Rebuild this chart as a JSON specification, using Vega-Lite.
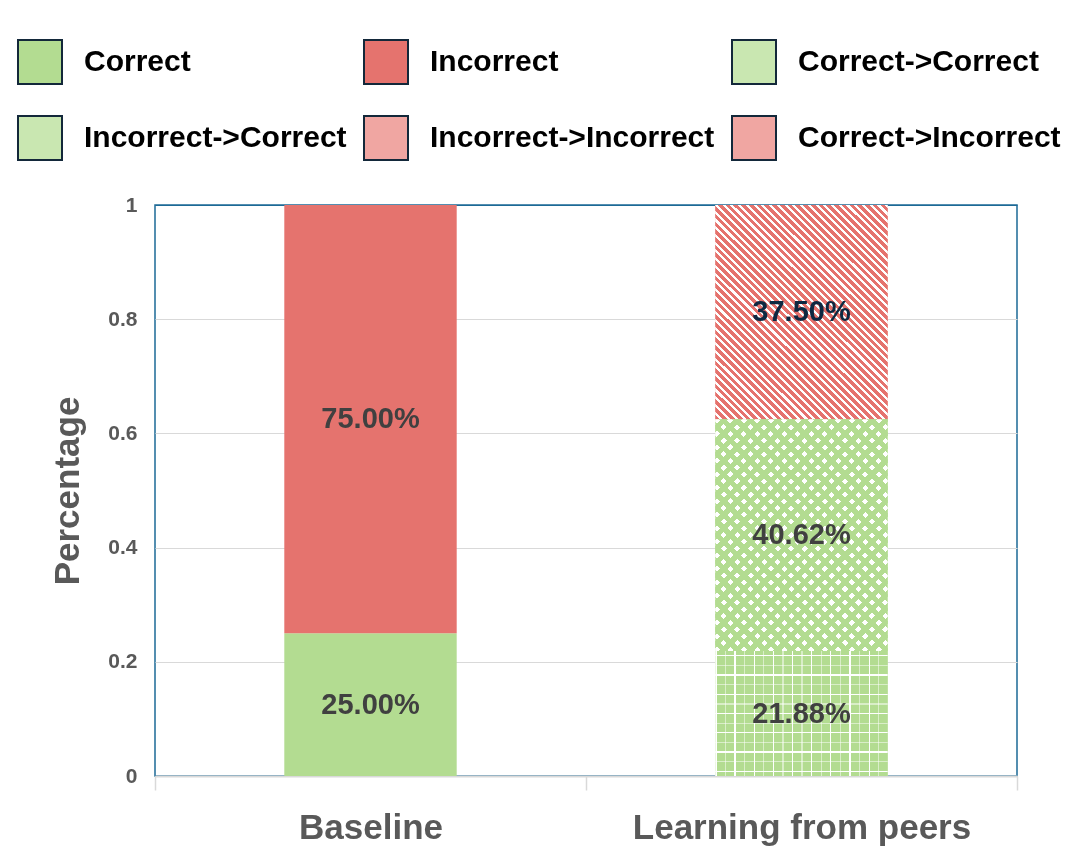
{
  "$schema": "https://vega.github.io/schema/vega-lite/v6.json",
  "width": 862,
  "height": 571,
  "autosize": {"type": "none"},
  "padding": {"left": 155, "top": 205, "right": 63, "bottom": 81},
  "background": "white",
  "params": [
    {"name": "cR", "value": "#e5736e"},
    {"name": "cW", "value": "#ffffff"},
    {"name": "cG", "value": "#b3dc91"},
    {"name": "cT", "value": "rgba(255,255,255,0)"},
    {"name": "cH", "value": "rgba(255,255,255,0.5)"},
    {"name": "sII", "expr": "[{offset:0,color:cR},{offset:0.012,color:cR},{offset:0.012,color:cW},{offset:0.02,color:cW},{offset:0.02,color:cR},{offset:0.032,color:cR},{offset:0.032,color:cW},{offset:0.04,color:cW},{offset:0.04,color:cR},{offset:0.052,color:cR},{offset:0.052,color:cW},{offset:0.06,color:cW},{offset:0.06,color:cR},{offset:0.072,color:cR},{offset:0.072,color:cW},{offset:0.08,color:cW},{offset:0.08,color:cR},{offset:0.092,color:cR},{offset:0.092,color:cW},{offset:0.1,color:cW},{offset:0.1,color:cR},{offset:0.112,color:cR},{offset:0.112,color:cW},{offset:0.12,color:cW},{offset:0.12,color:cR},{offset:0.132,color:cR},{offset:0.132,color:cW},{offset:0.14,color:cW},{offset:0.14,color:cR},{offset:0.152,color:cR},{offset:0.152,color:cW},{offset:0.16,color:cW},{offset:0.16,color:cR},{offset:0.172,color:cR},{offset:0.172,color:cW},{offset:0.18,color:cW},{offset:0.18,color:cR},{offset:0.192,color:cR},{offset:0.192,color:cW},{offset:0.2,color:cW},{offset:0.2,color:cR},{offset:0.212,color:cR},{offset:0.212,color:cW},{offset:0.22,color:cW},{offset:0.22,color:cR},{offset:0.232,color:cR},{offset:0.232,color:cW},{offset:0.24,color:cW},{offset:0.24,color:cR},{offset:0.252,color:cR},{offset:0.252,color:cW},{offset:0.26,color:cW},{offset:0.26,color:cR},{offset:0.272,color:cR},{offset:0.272,color:cW},{offset:0.28,color:cW},{offset:0.28,color:cR},{offset:0.292,color:cR},{offset:0.292,color:cW},{offset:0.3,color:cW},{offset:0.3,color:cR},{offset:0.312,color:cR},{offset:0.312,color:cW},{offset:0.32,color:cW},{offset:0.32,color:cR},{offset:0.332,color:cR},{offset:0.332,color:cW},{offset:0.34,color:cW},{offset:0.34,color:cR},{offset:0.352,color:cR},{offset:0.352,color:cW},{offset:0.36,color:cW},{offset:0.36,color:cR},{offset:0.372,color:cR},{offset:0.372,color:cW},{offset:0.38,color:cW},{offset:0.38,color:cR},{offset:0.392,color:cR},{offset:0.392,color:cW},{offset:0.4,color:cW},{offset:0.4,color:cR},{offset:0.412,color:cR},{offset:0.412,color:cW},{offset:0.42,color:cW},{offset:0.42,color:cR},{offset:0.432,color:cR},{offset:0.432,color:cW},{offset:0.44,color:cW},{offset:0.44,color:cR},{offset:0.452,color:cR},{offset:0.452,color:cW},{offset:0.46,color:cW},{offset:0.46,color:cR},{offset:0.472,color:cR},{offset:0.472,color:cW},{offset:0.48,color:cW},{offset:0.48,color:cR},{offset:0.492,color:cR},{offset:0.492,color:cW},{offset:0.5,color:cW},{offset:0.5,color:cR},{offset:0.512,color:cR},{offset:0.512,color:cW},{offset:0.52,color:cW},{offset:0.52,color:cR},{offset:0.532,color:cR},{offset:0.532,color:cW},{offset:0.54,color:cW},{offset:0.54,color:cR},{offset:0.552,color:cR},{offset:0.552,color:cW},{offset:0.56,color:cW},{offset:0.56,color:cR},{offset:0.572,color:cR},{offset:0.572,color:cW},{offset:0.58,color:cW},{offset:0.58,color:cR},{offset:0.592,color:cR},{offset:0.592,color:cW},{offset:0.6,color:cW},{offset:0.6,color:cR},{offset:0.612,color:cR},{offset:0.612,color:cW},{offset:0.62,color:cW},{offset:0.62,color:cR},{offset:0.632,color:cR},{offset:0.632,color:cW},{offset:0.64,color:cW},{offset:0.64,color:cR},{offset:0.652,color:cR},{offset:0.652,color:cW},{offset:0.66,color:cW},{offset:0.66,color:cR},{offset:0.672,color:cR},{offset:0.672,color:cW},{offset:0.68,color:cW},{offset:0.68,color:cR},{offset:0.692,color:cR},{offset:0.692,color:cW},{offset:0.7,color:cW},{offset:0.7,color:cR},{offset:0.712,color:cR},{offset:0.712,color:cW},{offset:0.72,color:cW},{offset:0.72,color:cR},{offset:0.732,color:cR},{offset:0.732,color:cW},{offset:0.74,color:cW},{offset:0.74,color:cR},{offset:0.752,color:cR},{offset:0.752,color:cW},{offset:0.76,color:cW},{offset:0.76,color:cR},{offset:0.772,color:cR},{offset:0.772,color:cW},{offset:0.78,color:cW},{offset:0.78,color:cR},{offset:0.792,color:cR},{offset:0.792,color:cW},{offset:0.8,color:cW},{offset:0.8,color:cR},{offset:0.812,color:cR},{offset:0.812,color:cW},{offset:0.82,color:cW},{offset:0.82,color:cR},{offset:0.832,color:cR},{offset:0.832,color:cW},{offset:0.84,color:cW},{offset:0.84,color:cR},{offset:0.852,color:cR},{offset:0.852,color:cW},{offset:0.86,color:cW},{offset:0.86,color:cR},{offset:0.872,color:cR},{offset:0.872,color:cW},{offset:0.88,color:cW},{offset:0.88,color:cR},{offset:0.892,color:cR},{offset:0.892,color:cW},{offset:0.9,color:cW},{offset:0.9,color:cR},{offset:0.912,color:cR},{offset:0.912,color:cW},{offset:0.92,color:cW},{offset:0.92,color:cR},{offset:0.932,color:cR},{offset:0.932,color:cW},{offset:0.94,color:cW},{offset:0.94,color:cR},{offset:0.952,color:cR},{offset:0.952,color:cW},{offset:0.96,color:cW},{offset:0.96,color:cR},{offset:0.972,color:cR},{offset:0.972,color:cW},{offset:0.98,color:cW},{offset:0.98,color:cR},{offset:0.992,color:cR},{offset:0.992,color:cW},{offset:1,color:cW}]"},
    {"name": "gII", "expr": "{gradient:'linear',x1:0,y1:1,x2:0.881,y2:-0.096,stops:sII}"},
    {"name": "sIC", "expr": "[{offset:0,color:cW},{offset:0.015,color:cW},{offset:0.015,color:cG},{offset:0.0333,color:cG},{offset:0.0333,color:cW},{offset:0.0483,color:cW},{offset:0.0483,color:cG},{offset:0.0667,color:cG},{offset:0.0667,color:cW},{offset:0.0817,color:cW},{offset:0.0817,color:cG},{offset:0.1,color:cG},{offset:0.1,color:cW},{offset:0.115,color:cW},{offset:0.115,color:cG},{offset:0.1333,color:cG},{offset:0.1333,color:cW},{offset:0.1483,color:cW},{offset:0.1483,color:cG},{offset:0.1667,color:cG},{offset:0.1667,color:cW},{offset:0.1817,color:cW},{offset:0.1817,color:cG},{offset:0.2,color:cG},{offset:0.2,color:cW},{offset:0.215,color:cW},{offset:0.215,color:cG},{offset:0.2333,color:cG},{offset:0.2333,color:cW},{offset:0.2483,color:cW},{offset:0.2483,color:cG},{offset:0.2667,color:cG},{offset:0.2667,color:cW},{offset:0.2817,color:cW},{offset:0.2817,color:cG},{offset:0.3,color:cG},{offset:0.3,color:cW},{offset:0.315,color:cW},{offset:0.315,color:cG},{offset:0.3333,color:cG},{offset:0.3333,color:cW},{offset:0.3483,color:cW},{offset:0.3483,color:cG},{offset:0.3667,color:cG},{offset:0.3667,color:cW},{offset:0.3817,color:cW},{offset:0.3817,color:cG},{offset:0.4,color:cG},{offset:0.4,color:cW},{offset:0.415,color:cW},{offset:0.415,color:cG},{offset:0.4333,color:cG},{offset:0.4333,color:cW},{offset:0.4483,color:cW},{offset:0.4483,color:cG},{offset:0.4667,color:cG},{offset:0.4667,color:cW},{offset:0.4817,color:cW},{offset:0.4817,color:cG},{offset:0.5,color:cG},{offset:0.5,color:cW},{offset:0.515,color:cW},{offset:0.515,color:cG},{offset:0.5333,color:cG},{offset:0.5333,color:cW},{offset:0.5483,color:cW},{offset:0.5483,color:cG},{offset:0.5667,color:cG},{offset:0.5667,color:cW},{offset:0.5817,color:cW},{offset:0.5817,color:cG},{offset:0.6,color:cG},{offset:0.6,color:cW},{offset:0.615,color:cW},{offset:0.615,color:cG},{offset:0.6333,color:cG},{offset:0.6333,color:cW},{offset:0.6483,color:cW},{offset:0.6483,color:cG},{offset:0.6667,color:cG},{offset:0.6667,color:cW},{offset:0.6817,color:cW},{offset:0.6817,color:cG},{offset:0.7,color:cG},{offset:0.7,color:cW},{offset:0.715,color:cW},{offset:0.715,color:cG},{offset:0.7333,color:cG},{offset:0.7333,color:cW},{offset:0.7483,color:cW},{offset:0.7483,color:cG},{offset:0.7667,color:cG},{offset:0.7667,color:cW},{offset:0.7817,color:cW},{offset:0.7817,color:cG},{offset:0.8,color:cG},{offset:0.8,color:cW},{offset:0.815,color:cW},{offset:0.815,color:cG},{offset:0.8333,color:cG},{offset:0.8333,color:cW},{offset:0.8483,color:cW},{offset:0.8483,color:cG},{offset:0.8667,color:cG},{offset:0.8667,color:cW},{offset:0.8817,color:cW},{offset:0.8817,color:cG},{offset:0.9,color:cG},{offset:0.9,color:cW},{offset:0.915,color:cW},{offset:0.915,color:cG},{offset:0.9333,color:cG},{offset:0.9333,color:cW},{offset:0.9483,color:cW},{offset:0.9483,color:cG},{offset:0.9667,color:cG},{offset:0.9667,color:cW},{offset:0.9817,color:cW},{offset:0.9817,color:cG},{offset:1,color:cG}]"},
    {"name": "gICa", "expr": "{gradient:'linear',x1:0,y1:0,x2:0.835,y2:1.123,stops:sIC}"},
    {"name": "gICb", "expr": "{gradient:'linear',x1:0,y1:1,x2:0.835,y2:-0.123,stops:sIC}"},
    {"name": "gCCv", "expr": "{gradient:'linear',x1:0,y1:0,x2:1,y2:0,stops:[{offset:0,color:cW},{offset:0.007,color:cW},{offset:0.007,color:cT},{offset:0.0556,color:cT},{offset:0.0556,color:cH},{offset:0.0626,color:cH},{offset:0.0626,color:cT},{offset:0.1111,color:cT},{offset:0.1111,color:cW},{offset:0.1181,color:cW},{offset:0.1181,color:cT},{offset:0.1667,color:cT},{offset:0.1667,color:cH},{offset:0.1737,color:cH},{offset:0.1737,color:cT},{offset:0.2222,color:cT},{offset:0.2222,color:cW},{offset:0.2292,color:cW},{offset:0.2292,color:cT},{offset:0.2778,color:cT},{offset:0.2778,color:cH},{offset:0.2848,color:cH},{offset:0.2848,color:cT},{offset:0.3333,color:cT},{offset:0.3333,color:cW},{offset:0.3403,color:cW},{offset:0.3403,color:cT},{offset:0.3889,color:cT},{offset:0.3889,color:cH},{offset:0.3959,color:cH},{offset:0.3959,color:cT},{offset:0.4444,color:cT},{offset:0.4444,color:cW},{offset:0.4514,color:cW},{offset:0.4514,color:cT},{offset:0.5,color:cT},{offset:0.5,color:cH},{offset:0.507,color:cH},{offset:0.507,color:cT},{offset:0.5556,color:cT},{offset:0.5556,color:cW},{offset:0.5626,color:cW},{offset:0.5626,color:cT},{offset:0.6111,color:cT},{offset:0.6111,color:cH},{offset:0.6181,color:cH},{offset:0.6181,color:cT},{offset:0.6667,color:cT},{offset:0.6667,color:cW},{offset:0.6737,color:cW},{offset:0.6737,color:cT},{offset:0.7222,color:cT},{offset:0.7222,color:cH},{offset:0.7292,color:cH},{offset:0.7292,color:cT},{offset:0.7778,color:cT},{offset:0.7778,color:cW},{offset:0.7848,color:cW},{offset:0.7848,color:cT},{offset:0.8333,color:cT},{offset:0.8333,color:cH},{offset:0.8403,color:cH},{offset:0.8403,color:cT},{offset:0.8889,color:cT},{offset:0.8889,color:cW},{offset:0.8959,color:cW},{offset:0.8959,color:cT},{offset:0.9444,color:cT},{offset:0.9444,color:cH},{offset:0.9514,color:cH},{offset:0.9514,color:cT},{offset:1,color:cT}]}"},
    {"name": "gCCh", "expr": "{gradient:'linear',x1:0,y1:0,x2:0,y2:1,stops:[{offset:0,color:cT},{offset:0.0337,color:cT},{offset:0.0337,color:cW},{offset:0.0433,color:cW},{offset:0.0433,color:cT},{offset:0.1106,color:cT},{offset:0.1106,color:cH},{offset:0.1202,color:cH},{offset:0.1202,color:cT},{offset:0.1875,color:cT},{offset:0.1875,color:cW},{offset:0.1971,color:cW},{offset:0.1971,color:cT},{offset:0.2644,color:cT},{offset:0.2644,color:cH},{offset:0.274,color:cH},{offset:0.274,color:cT},{offset:0.3414,color:cT},{offset:0.3414,color:cW},{offset:0.351,color:cW},{offset:0.351,color:cT},{offset:0.4183,color:cT},{offset:0.4183,color:cH},{offset:0.4279,color:cH},{offset:0.4279,color:cT},{offset:0.4952,color:cT},{offset:0.4952,color:cW},{offset:0.5048,color:cW},{offset:0.5048,color:cT},{offset:0.5721,color:cT},{offset:0.5721,color:cH},{offset:0.5817,color:cH},{offset:0.5817,color:cT},{offset:0.649,color:cT},{offset:0.649,color:cW},{offset:0.6586,color:cW},{offset:0.6586,color:cT},{offset:0.726,color:cT},{offset:0.726,color:cH},{offset:0.7356,color:cH},{offset:0.7356,color:cT},{offset:0.8029,color:cT},{offset:0.8029,color:cW},{offset:0.8125,color:cW},{offset:0.8125,color:cT},{offset:0.8798,color:cT},{offset:0.8798,color:cH},{offset:0.8894,color:cH},{offset:0.8894,color:cT},{offset:0.9567,color:cT},{offset:0.9567,color:cW},{offset:0.9663,color:cW},{offset:0.9663,color:cT},{offset:1,color:cT}]}"}
  ],
  "data": {
    "values": [
      {"group": "Baseline", "category": "Correct", "value": 0.25},
      {"group": "Baseline", "category": "Incorrect", "value": 0.75},
      {"group": "Learning from peers", "category": "Correct->Correct", "value": 0.2188},
      {"group": "Learning from peers", "category": "Incorrect->Correct", "value": 0.4062},
      {"group": "Learning from peers", "category": "Incorrect->Incorrect", "value": 0.375},
      {"group": "Learning from peers", "category": "Correct->Incorrect", "value": 0}
    ]
  },
  "transform": [
    {"stack": "value", "groupby": ["group"], "sort": [{"field": "category", "order": "ascending"}], "as": ["v0", "v1"]},
    {"calculate": "(datum.v0 + datum.v1) / 2", "as": "mid"}
  ],
  "layer": [
    {
      "encoding": {
        "x": {
          "field": "group", "type": "nominal", "sort": ["Baseline", "Learning from peers"],
          "scale": {"paddingInner": 0, "paddingOuter": 0},
          "axis": {
            "title": null, "labelFont": "Liberation Sans", "labelFontSize": 35, "labelFontWeight": "bold",
            "labelColor": "#595959", "labelAngle": 0, "labelPadding": 20, "labelLimit": 0,
            "tickBand": "extent", "tickSize": 14, "tickColor": "#d9d9d9", "tickWidth": 1.5,
            "domainColor": "#d9d9d9", "domainWidth": 2, "grid": false
          }
        },
        "y": {
          "field": "v0", "type": "quantitative",
          "scale": {"domain": [0, 1], "nice": false},
          "axis": {
            "title": "Percentage", "titleFont": "Liberation Sans", "titleFontSize": 35, "titleFontWeight": "bold",
            "titleColor": "#595959", "titlePadding": 22,
            "labelFont": "Liberation Sans", "labelFontSize": 21, "labelFontWeight": "bold", "labelColor": "#595959",
            "labelPadding": 18, "ticks": false, "domain": false, "grid": true,
            "gridColor": {"condition": {"test": "datum.value === 1", "value": "#1d6a96"}, "value": "#d9d9d9"},
            "gridWidth": 1.2, "values": [0, 0.2, 0.4, 0.6, 0.8, 1], "format": "~g"
          }
        },
        "y2": {"field": "v1"}
      },
      "layer": [
        {
          "mark": {"type": "bar", "width": {"band": 0.4}},
          "encoding": {
            "fill": {
              "field": "category", "type": "nominal",
              "scale": {
                "domain": ["Correct", "Incorrect", "Correct->Correct", "Incorrect->Correct", "Incorrect->Incorrect", "Correct->Incorrect"],
                "range": ["#b3dc91", "#e5736e", "#c9e7b1", "#c9e7b1", "#f0a6a2", "#f0a6a2"]
              },
              "legend": {
                "title": null, "orient": "none", "legendX": -138, "legendY": -166, "columns": 3, "direction": "horizontal",
                "symbolOpacity": 1, "symbolStrokeColor": "#13283a", "symbolType": "square"
              }
            }
          }
        },
        {
          "transform": [{"filter": "datum.category === 'Correct->Correct'"}],
          "mark": {"type": "bar", "width": {"band": 0.4}, "fill": "#b3dc91"}
        },
        {
          "transform": [{"filter": "datum.category === 'Incorrect->Incorrect'"}],
          "mark": {"type": "bar", "width": {"band": 0.4}, "fill": {"expr": "gII"}}
        },
        {
          "transform": [{"filter": "datum.category === 'Correct->Correct'"}],
          "mark": {"type": "bar", "width": {"band": 0.4}, "fill": {"expr": "gCCv"}}
        },
        {
          "transform": [{"filter": "datum.category === 'Correct->Correct'"}],
          "mark": {"type": "bar", "width": {"band": 0.4}, "fill": {"expr": "gCCh"}}
        },
        {
          "transform": [{"filter": "datum.category === 'Incorrect->Correct'"}],
          "mark": {"type": "bar", "width": {"band": 0.4}, "fill": {"expr": "gICa"}}
        },
        {
          "transform": [{"filter": "datum.category === 'Incorrect->Correct'"}],
          "mark": {"type": "bar", "width": {"band": 0.4}, "fill": {"expr": "gICb"}, "blend": "darken"}
        }
      ]
    },
    {
      "transform": [{"filter": "datum.value > 0"}],
      "mark": {"type": "text", "font": "Liberation Sans", "fontSize": 29, "fontWeight": "bold", "baseline": "middle", "align": "center"},
      "encoding": {
        "x": {"field": "group", "type": "nominal", "sort": ["Baseline", "Learning from peers"]},
        "y": {"field": "mid", "type": "quantitative"},
        "text": {"field": "value", "type": "quantitative", "format": ".2%"},
        "color": {"condition": {"test": "datum.category === 'Incorrect->Incorrect'", "value": "#0e2841"}, "value": "#404040"}
      }
    }
  ],
  "config": {
    "view": {"stroke": "#1d6a96", "strokeWidth": 1.5},
    "legend": {
      "labelFont": "Liberation Sans", "labelFontSize": 30, "labelFontWeight": "bold", "labelColor": "#000000",
      "symbolType": "square", "symbolSize": 1936, "symbolStrokeWidth": 2,
      "columnPadding": 13, "rowPadding": 24, "labelOffset": 21, "padding": 0, "labelLimit": 0
    }
  }
}
